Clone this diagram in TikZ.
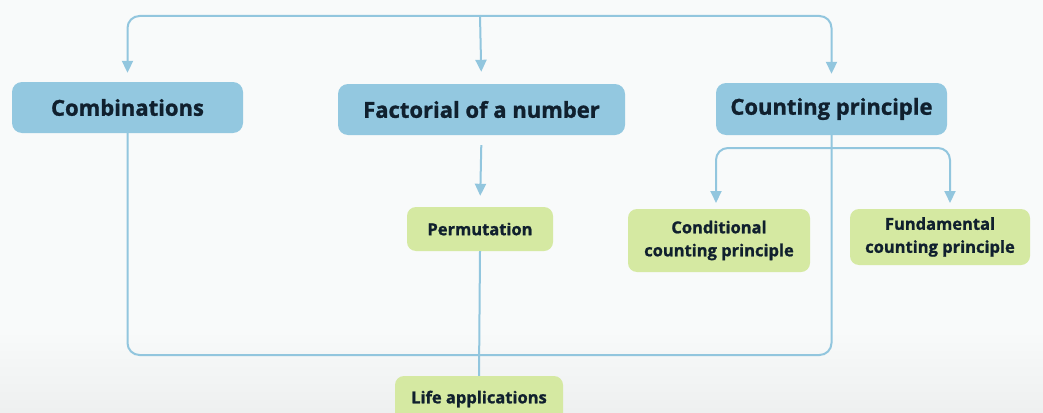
\documentclass[tikz,border=0pt]{standalone}
\usepackage{fontspec}
\setmainfont{Open Sans}[BoldFeatures={FakeBold=1.2}]
\usetikzlibrary{arrows.meta,calc}
\definecolor{bg}{HTML}{F8FAFA}
\definecolor{bgbot}{HTML}{EEF0F0}
\definecolor{bluebox}{HTML}{93C8E0}
\definecolor{greenbox}{HTML}{D5E9A2}
\definecolor{linec}{HTML}{92C6DE}
\definecolor{txt}{HTML}{10202E}
\tikzset{
  bigbox/.style={fill=bluebox, rounded corners=10pt, text=txt, font=\bfseries\fontsize{22}{24}\selectfont, inner sep=0pt},
  smallbox/.style={fill=greenbox, rounded corners=9pt, text=txt, font=\bfseries\fontsize{16.5}{23}\selectfont, inner sep=0pt, align=center},
  conn/.style={draw=linec, line width=2pt, rounded corners=12pt},
  arr/.style={conn, -{Triangle[length=12pt,width=11pt]}},
}
\begin{document}
\begin{tikzpicture}[x=1pt,y=-1pt]
\fill[bg] (0,0) rectangle (1043,412);
\shade[top color=bg, bottom color=bgbot] (0,330) rectangle (1043,412);
\useasboundingbox (0,0) rectangle (1043,412);
\node[bigbox, minimum width=231pt, minimum height=51pt] (comb) at (127.5,107.5) {Combinations};
\node[bigbox, minimum width=287pt, minimum height=51pt] (fact) at (481.5,109.5) {Factorial of a number};
\node[bigbox, minimum width=231pt, minimum height=52pt] (cp) at (831.5,109) {Counting principle};
\node[smallbox, minimum width=146pt, minimum height=44pt] (perm) at (480,229) {Permutation};
\node[smallbox, minimum width=182pt, minimum height=63pt] (cond) at (719,240.5) {Conditional\\counting principle};
\node[smallbox, minimum width=180pt, minimum height=56pt] (fund) at (940,237) {Fundamental\\counting principle};
\node[smallbox, minimum width=168pt, minimum height=46pt] (life) at (479,399) {Life applications};
\coordinate (top) at (480,16);
\coordinate (br) at (831,148);
\coordinate (bot) at (480,355);
% top distribution
\draw[arr, shorten >=9pt] (top) -| (comb.north);
\draw[arr, shorten >=9pt] (top) -| (cp.north);
\draw[arr, shorten >=12pt] (top) -- (fact.north);
% factorial to permutation
\draw[arr, shorten <=10pt, shorten >=11pt] (fact.south) -- (perm.north);
% counting principle branches
\draw[arr, shorten >=6pt] (br) -| (716,209);
\draw[arr, shorten >=6pt] (br) -| (950,209);
% bottom loop
\draw[conn] (comb.south) |- (bot);
\draw[conn] (cp.south) |- (bot);
\draw[conn] (perm.south) -- (life.north);
\end{tikzpicture}
\end{document}
